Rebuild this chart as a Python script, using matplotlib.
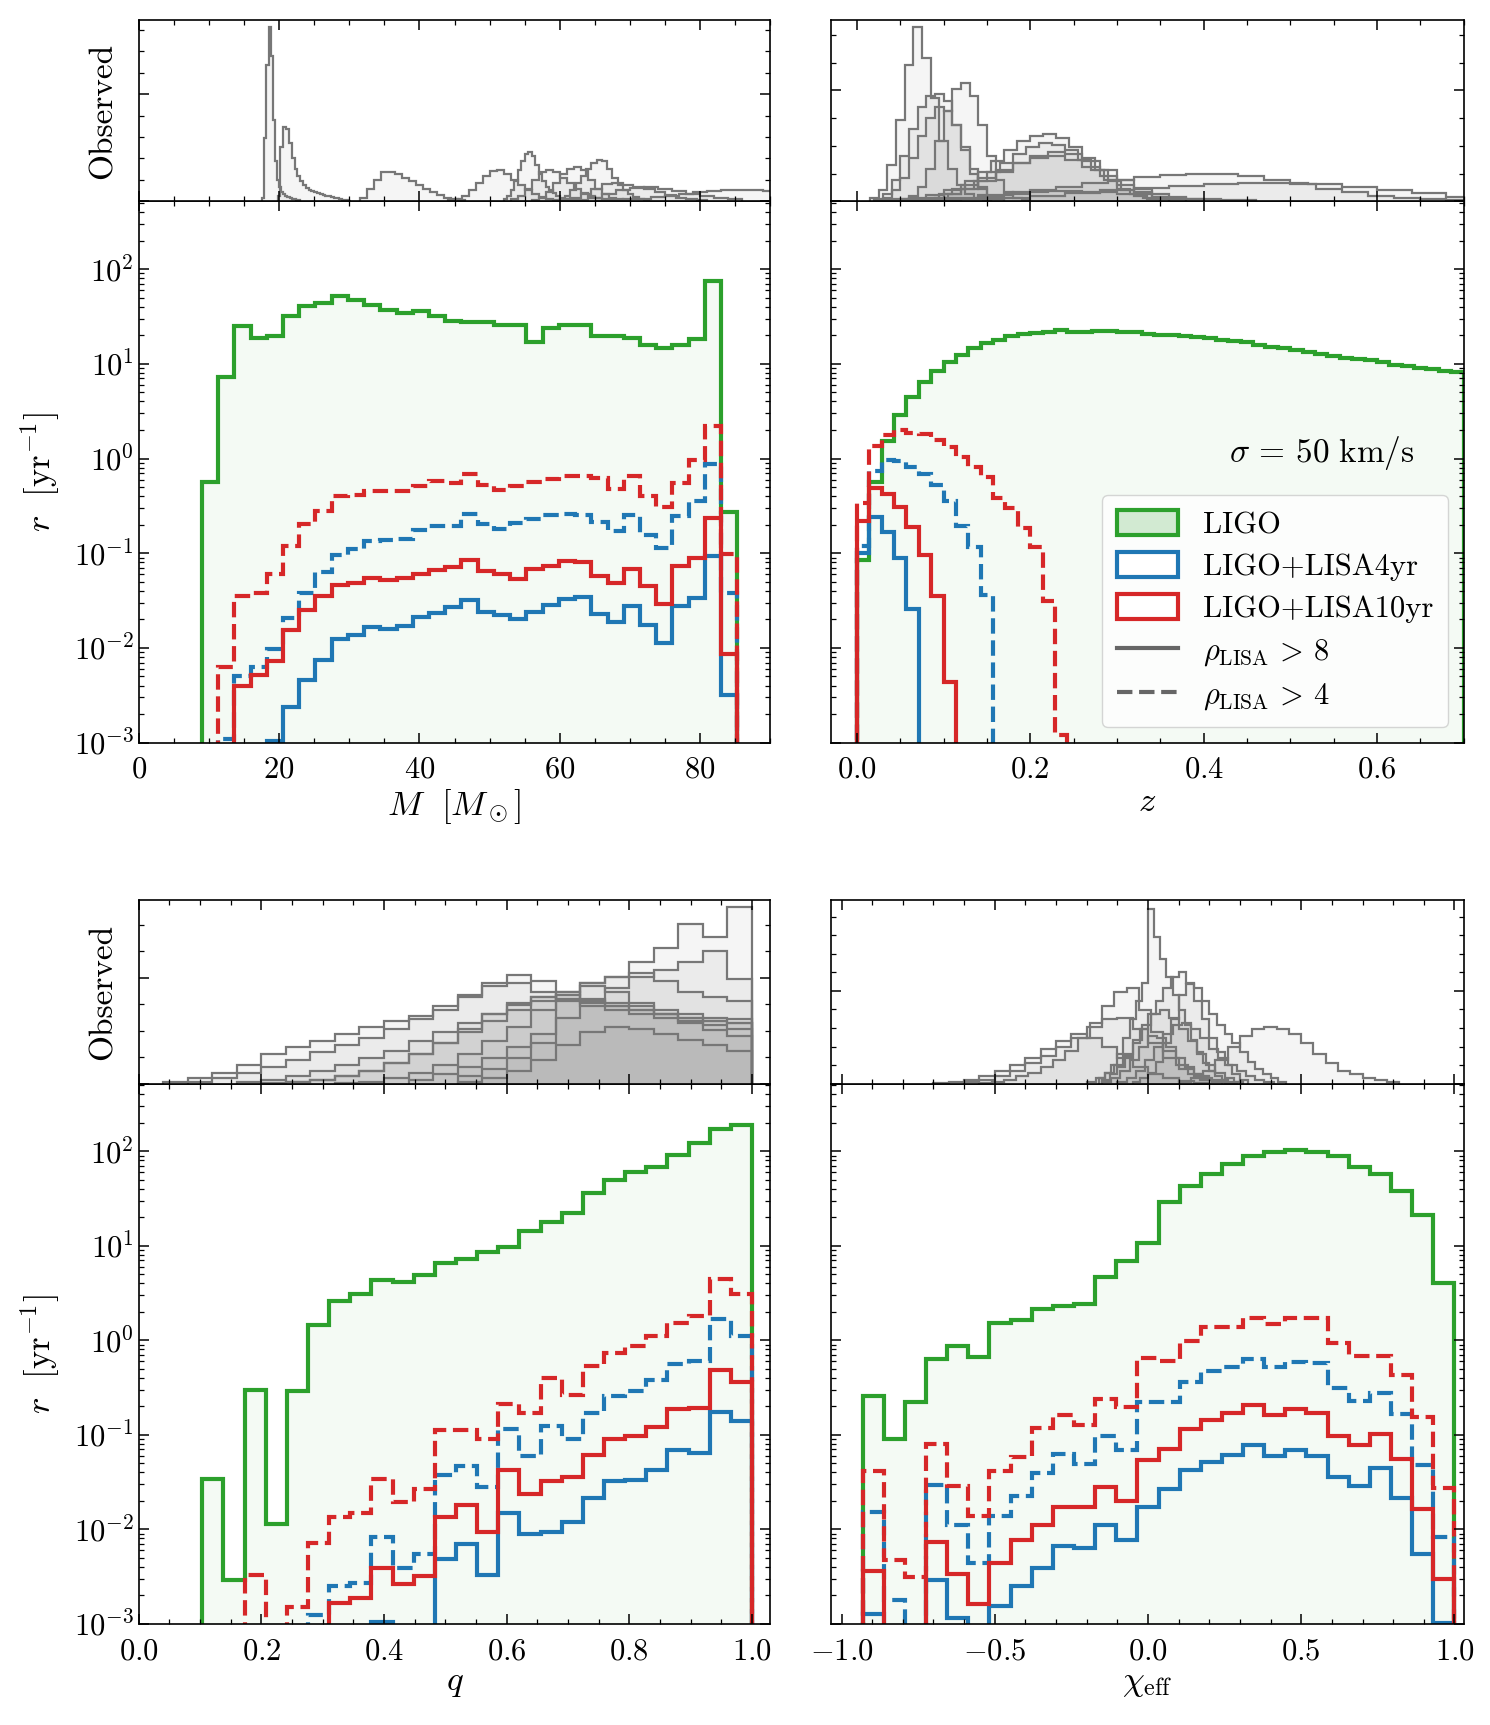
import numpy as np
import matplotlib
matplotlib.use('Agg')
import matplotlib.pyplot as plt
from matplotlib.ticker import MultipleLocator, LogLocator, NullFormatter
from matplotlib.patches import Patch
from matplotlib.lines import Line2D
from matplotlib.colors import to_rgba

plt.rcParams['font.family'] = 'serif'
plt.rcParams['font.serif'] = ['cmr10']
plt.rcParams['mathtext.fontset'] = 'cm'
plt.rcParams['axes.formatter.use_mathtext'] = True

GREEN = '#2ca02c'
BLUE = '#1f77b4'
RED = '#d62728'
OBS_EDGE = '#777777'

# ---- rates per bin ----
M_edges = np.linspace(9.0, 85.3, 34)
M_ligo = [0.57, 7.3, 25, 18.9, 19.7, 32, 41, 44, 52, 47, 42, 37, 34, 36, 32, 28.4, 27.9,
          27.7, 25.4, 25.4, 17.2, 23.9, 26, 25.4, 19.7, 19.7, 18.7, 15.9, 14.8, 15.9, 18.4, 74, 0.27]
M_10yr_rho4 = [0, 0.0063, 0.0356, 0.038, 0.060, 0.118, 0.202, 0.281, 0.405, 0.416, 0.453, 0.453,
               0.45, 0.516, 0.573, 0.55, 0.68, 0.53, 0.47, 0.516, 0.56, 0.61, 0.66, 0.65, 0.62,
               0.48, 0.65, 0.405, 0.304, 0.55, 0.96, 2.2, 0.097]
M_4yr_rho4 = [0, 0.0011, 0.0051, 0.0063, 0.0097, 0.0206, 0.038, 0.063, 0.095, 0.110, 0.134, 0.137,
              0.143, 0.177, 0.194, 0.194, 0.258, 0.202, 0.18, 0.21, 0.23, 0.256, 0.262, 0.256,
              0.215, 0.17, 0.256, 0.156, 0.113, 0.25, 0.356, 0.885, 0.038]
M_10yr_rho8 = [0, 0, 0.0040, 0.0052, 0.0072, 0.0156, 0.0252, 0.035, 0.046, 0.049, 0.055, 0.052,
               0.055, 0.060, 0.067, 0.071, 0.085, 0.065, 0.06, 0.054, 0.068, 0.074, 0.082, 0.08,
               0.057, 0.048, 0.068, 0.045, 0.029, 0.074, 0.089, 0.234, 0.0087]
M_4yr_rho8 = [0, 0, 0, 0, 0.00105, 0.0024, 0.0046, 0.0075, 0.0123, 0.0137, 0.0168, 0.016, 0.0171,
              0.0212, 0.0234, 0.0268, 0.032, 0.0237, 0.0222, 0.0201, 0.0237, 0.0286, 0.0326,
              0.0346, 0.0226, 0.019, 0.028, 0.0175, 0.0112, 0.0278, 0.0337, 0.094, 0.0032]

z_edges = np.linspace(0.0, 0.7, 50)
z_ligo = [0.085, 0.57, 1.53, 2.85, 4.48, 6.5, 8.4, 10.5, 12.5, 14.6,
          16.5, 17.9, 19.6, 20.6, 21.3, 21.9, 22.5, 21.9, 21.7, 22.1,
          22.1, 21.9, 21.5, 20.6, 20.3, 20.0, 19.6, 19.1, 18.6, 17.9,
          17.4, 16.8, 15.8, 15.1, 14.7, 14.1, 13.4, 12.7, 12.0, 11.5,
          11.2, 10.9, 10.5, 9.8, 9.5, 9.0, 8.8, 8.4, 8.1]
z_10yr_rho4 = [0.34, 1.36, 1.77, 2.01, 1.88, 1.82, 1.58, 1.31, 1.03, 0.81, 0.64, 0.38, 0.30,
               0.185, 0.117, 0.031, 0.0012]
z_4yr_rho4 = [0.12, 0.74, 0.96, 0.94, 0.81, 0.68, 0.53, 0.36, 0.194, 0.117, 0.036]
z_10yr_rho8 = [0.22, 0.49, 0.42, 0.31, 0.19, 0.095, 0.035, 0.0044]
z_4yr_rho8 = [0.10, 0.24, 0.166, 0.090, 0.026]

q_edges = np.linspace(0.1037, 1.0, 27)
q_ligo = [0.034, 0.0029, 0.30, 0.0114, 0.29, 1.45, 2.62, 3.08, 4.36, 4.11, 4.89, 6.5, 7.2,
          8.5, 9.6, 14.3, 17.7, 22.4, 36, 50, 61, 68, 92, 122, 173, 192]
q_10yr_rho4 = [0, 0, 0.0033, 0, 0.0015, 0.0072, 0.0136, 0.0148, 0.034, 0.0192, 0.0265, 0.113,
               0.113, 0.091, 0.214, 0.169, 0.40, 0.266, 0.53, 0.74, 0.86, 1.12, 1.54, 1.80,
               4.49, 3.08]
q_4yr_rho4 = [0, 0, 0, 0, 0, 0.00123, 0.0025, 0.0027, 0.0083, 0.0039, 0.0055, 0.0376, 0.0467,
              0.0282, 0.116, 0.059, 0.124, 0.091, 0.172, 0.255, 0.29, 0.377, 0.556, 0.61, 1.68, 1.12]
q_10yr_rho8 = [0, 0, 0, 0, 0, 0, 0.00164, 0.00187, 0.0039, 0.00265, 0.0032, 0.0136, 0.0182,
               0.0094, 0.0428, 0.0237, 0.0324, 0.0353, 0.0617, 0.0895, 0.0977, 0.122, 0.188,
               0.191, 0.48, 0.36]
q_4yr_rho8 = [0, 0, 0, 0, 0, 0, 0, 0, 0.00104, 0, 0, 0.0049, 0.0069, 0.0033, 0.0148, 0.0088,
              0.0094, 0.0118, 0.0213, 0.0324, 0.0336, 0.042, 0.069, 0.064, 0.175, 0.141]

chi_edges = np.linspace(-0.931, 1.0, 29)
chi_ligo = [0.255, 0.0895, 0.22, 0.63, 0.86, 0.66, 1.51, 1.65, 2.14, 2.30, 2.44, 4.69, 6.9,
            10.7, 29, 43, 57, 74, 89, 98, 104, 98, 90, 69, 57, 38, 21, 4.0]
chi_10yr_rho4 = [0.041, 0.0047, 0.0031, 0.079, 0.029, 0.0138, 0.041, 0.058, 0.119, 0.160,
                 0.127, 0.24, 0.196, 0.65, 0.61, 0.98, 1.39, 1.39, 1.72, 1.49, 1.72, 1.72,
                 0.94, 0.68, 0.68, 0.43, 0.155, 0.027]
chi_4yr_rho4 = [0.0151, 0.0018, 0, 0.0297, 0.0111, 0.0044, 0.0138, 0.0223, 0.039, 0.063,
                0.049, 0.098, 0.069, 0.223, 0.22, 0.36, 0.47, 0.52, 0.63, 0.52, 0.59, 0.58,
                0.31, 0.227, 0.28, 0.165, 0.0475, 0.0082]
chi_10yr_rho8 = [0.0036, 0, 0, 0.0074, 0.0034, 0.0016, 0.0044, 0.0077, 0.0111, 0.0172, 0.017,
                 0.0282, 0.0199, 0.0546, 0.071, 0.116, 0.145, 0.169, 0.208, 0.16, 0.188, 0.169,
                 0.098, 0.077, 0.102, 0.056, 0.0164, 0.003]
chi_4yr_rho8 = [0.00128, 0, 0, 0.0029, 0.00116, 0, 0.00155, 0.0025, 0.0039, 0.0066, 0.0063,
                0.0111, 0.0077, 0.0172, 0.0265, 0.042, 0.051, 0.0606, 0.077, 0.059, 0.069,
                0.059, 0.0353, 0.0289, 0.0447, 0.0213, 0.0055, 0.00102]

# ---- observed posteriors: (first edge, bin width, heights as fraction of panel height) ----
obs_M = [
    (17.6, 0.3, [0.02, 0.35, 0.75, 0.96, 0.80, 0.45, 0.22, 0.12, 0.08, 0.05, 0.04, 0.03, 0.025,
                 0.02, 0.015, 0.01, 0.008, 0.005]),
    (19.8, 0.4, [0.03, 0.30, 0.41, 0.40, 0.32, 0.24, 0.18, 0.14, 0.11, 0.09, 0.075, 0.065, 0.058,
                 0.052, 0.046, 0.04, 0.036, 0.032, 0.028, 0.024, 0.02, 0.016, 0.012, 0.009,
                 0.006, 0.004]),
    (31.5, 1.0, [0.02, 0.07, 0.12, 0.16, 0.16, 0.15, 0.13, 0.11, 0.09, 0.07, 0.05, 0.035, 0.02,
                 0.01, 0.005]),
    (44.0, 1.0, [0.005, 0.01, 0.03, 0.06, 0.10, 0.14, 0.165, 0.17, 0.15, 0.12, 0.09, 0.06, 0.04,
                 0.025, 0.015, 0.008, 0.004]),
    (52.0, 0.5, [0.01, 0.03, 0.06, 0.11, 0.17, 0.22, 0.26, 0.27, 0.25, 0.20, 0.15, 0.11, 0.08,
                 0.06, 0.045, 0.03, 0.02, 0.012, 0.008, 0.005]),
    (53.0, 1.0, [0.01, 0.03, 0.07, 0.12, 0.16, 0.17, 0.16, 0.13, 0.10, 0.07, 0.045, 0.03, 0.02,
                 0.01, 0.005]),
    (56.0, 1.0, [0.005, 0.02, 0.05, 0.10, 0.15, 0.18, 0.19, 0.17, 0.12, 0.07, 0.04, 0.02, 0.01,
                 0.005]),
    (60.0, 0.75, [0.01, 0.03, 0.06, 0.10, 0.14, 0.18, 0.21, 0.23, 0.22, 0.18, 0.13, 0.09, 0.06,
                  0.04, 0.025, 0.015, 0.008]),
    (60.0, 1.5, [0.01, 0.02, 0.04, 0.07, 0.095, 0.10, 0.09, 0.08, 0.07, 0.05, 0.035, 0.02, 0.01,
                 0.005]),
    (62.0, 2.0, [0.005, 0.02, 0.04, 0.06, 0.075, 0.08, 0.07, 0.055, 0.04, 0.03, 0.02, 0.01]),
    (65.0, 2.0, [0.002, 0.005, 0.01, 0.015, 0.022, 0.03, 0.04, 0.05, 0.058, 0.063, 0.065, 0.062,
                 0.058]),
]
obs_z = [
    (0.015, 0.01, [0.02, 0.06, 0.20, 0.45, 0.75, 0.96, 0.79, 0.57, 0.33, 0.18, 0.09, 0.04, 0.015,
                   0.005]),
    (0.02, 0.01, [0.01, 0.04, 0.12, 0.25, 0.40, 0.52, 0.58, 0.59, 0.55, 0.42, 0.28, 0.15, 0.07,
                  0.03, 0.01]),
    (0.03, 0.01, [0.02, 0.06, 0.13, 0.24, 0.36, 0.46, 0.52, 0.50, 0.42, 0.30, 0.18, 0.08, 0.03,
                  0.01]),
    (0.05, 0.01, [0.01, 0.03, 0.08, 0.18, 0.33, 0.50, 0.62, 0.65, 0.58, 0.42, 0.25, 0.12, 0.05,
                  0.02, 0.005]),
    (0.05, 0.015, [0.005, 0.01, 0.02, 0.04, 0.07, 0.11, 0.16, 0.22, 0.28, 0.33, 0.36, 0.37, 0.35,
                   0.30, 0.24, 0.17, 0.11, 0.06, 0.03, 0.015]),
    (0.06, 0.015, [0.005, 0.01, 0.02, 0.04, 0.07, 0.11, 0.16, 0.21, 0.26, 0.30, 0.32, 0.31, 0.28,
                   0.23, 0.17, 0.12, 0.07, 0.04, 0.02, 0.01]),
    (0.04, 0.02, [0.005, 0.01, 0.02, 0.04, 0.07, 0.11, 0.16, 0.21, 0.25, 0.27, 0.26, 0.22, 0.17,
                  0.12, 0.07, 0.04, 0.02, 0.01]),
    (0.02, 0.02, [0.005, 0.01, 0.02, 0.035, 0.06, 0.09, 0.13, 0.17, 0.21, 0.24, 0.25, 0.23, 0.19,
                  0.14, 0.09, 0.05, 0.025, 0.01]),
    (0.05, 0.03, [0.003, 0.008, 0.015, 0.025, 0.04, 0.06, 0.08, 0.10, 0.12, 0.135, 0.145, 0.15,
                  0.148, 0.14, 0.12, 0.095, 0.07, 0.05, 0.03, 0.018, 0.01, 0.005]),
    (0.08, 0.04, [0.005, 0.01, 0.02, 0.03, 0.045, 0.06, 0.072, 0.085, 0.095, 0.10, 0.10, 0.095,
                  0.08, 0.065, 0.045, 0.025, 0.015]),
    (0.06, 0.04, [0.01, 0.02, 0.035, 0.05, 0.055, 0.05, 0.04, 0.025, 0.012, 0.005]),
]
obs_q = [
    (0.04, 0.04, [0.01, 0.03, 0.06, 0.10, 0.16, 0.20, 0.23, 0.27, 0.31, 0.34, 0.37, 0.42, 0.48,
                  0.55, 0.59, 0.56, 0.50, 0.45, 0.42, 0.40, 0.38, 0.36, 0.34, 0.33]),
    (0.08, 0.04, [0.01, 0.03, 0.06, 0.09, 0.13, 0.17, 0.21, 0.25, 0.30, 0.35, 0.40, 0.47, 0.53,
                  0.55, 0.50, 0.46, 0.42, 0.40, 0.38, 0.36, 0.34, 0.32, 0.30]),
    (0.16, 0.04, [0.01, 0.02, 0.04, 0.07, 0.10, 0.14, 0.18, 0.23, 0.28, 0.33, 0.38, 0.43, 0.47,
                  0.48, 0.46, 0.44, 0.42, 0.40, 0.38, 0.36, 0.35]),
    (0.24, 0.04, [0.01, 0.02, 0.04, 0.07, 0.11, 0.16, 0.22, 0.28, 0.34, 0.40, 0.45, 0.50, 0.55,
                  0.58, 0.60, 0.56, 0.50, 0.47, 0.45]),
    (0.20, 0.04, [0.005, 0.01, 0.02, 0.04, 0.07, 0.11, 0.16, 0.22, 0.30, 0.38, 0.44, 0.47, 0.46,
                  0.44, 0.42, 0.40, 0.38, 0.36, 0.34, 0.33]),
    (0.32, 0.04, [0.005, 0.01, 0.03, 0.06, 0.10, 0.16, 0.23, 0.31, 0.40, 0.48, 0.53, 0.50, 0.44,
                  0.38, 0.33, 0.29, 0.26]),
    (0.52, 0.04, [0.01, 0.03, 0.07, 0.13, 0.21, 0.28, 0.31, 0.30, 0.27, 0.24, 0.21, 0.18]),
    (0.44, 0.04, [0.02, 0.05, 0.09, 0.14, 0.20, 0.27, 0.36, 0.45, 0.52, 0.58, 0.62, 0.66, 0.72,
                  0.57]),
    (0.52, 0.04, [0.04, 0.08, 0.14, 0.22, 0.45, 0.55, 0.58, 0.66, 0.74, 0.87, 0.80, 0.96]),
]
obs_chi = [
    (-0.16, 0.02, [0.03, 0.06, 0.10, 0.16, 0.25, 0.35, 0.45, 0.55, 0.95, 0.80, 0.68, 0.58, 0.48,
                   0.40, 0.32, 0.24, 0.17, 0.11, 0.07, 0.04, 0.02]),
    (-0.15, 0.025, [0.02, 0.05, 0.09, 0.15, 0.22, 0.30, 0.38, 0.45, 0.52, 0.58, 0.61, 0.55, 0.45,
                    0.35, 0.25, 0.17, 0.10, 0.05, 0.02]),
    (-0.05, 0.025, [0.01, 0.03, 0.06, 0.12, 0.22, 0.35, 0.48, 0.54, 0.52, 0.45, 0.38, 0.32, 0.27,
                    0.22, 0.17, 0.12, 0.08, 0.05, 0.03, 0.01]),
    (0.10, 0.04, [0.01, 0.03, 0.07, 0.13, 0.20, 0.26, 0.30, 0.31, 0.30, 0.27, 0.22, 0.16, 0.11,
                  0.07, 0.05, 0.03, 0.02, 0.01]),
    (-0.55, 0.04, [0.005, 0.01, 0.02, 0.04, 0.06, 0.09, 0.13, 0.18, 0.25, 0.33, 0.42, 0.50, 0.52,
                   0.40, 0.28, 0.18, 0.10, 0.05, 0.02, 0.01, 0.005]),
    (-0.60, 0.05, [0.01, 0.02, 0.04, 0.07, 0.11, 0.15, 0.20, 0.25, 0.31, 0.35, 0.36, 0.30, 0.22,
                   0.14, 0.08, 0.04, 0.02, 0.01]),
    (-0.70, 0.05, [0.005, 0.01, 0.02, 0.04, 0.07, 0.10, 0.14, 0.19, 0.23, 0.27, 0.25, 0.20, 0.14,
                   0.09, 0.05, 0.03, 0.015, 0.005]),
    (-0.15, 0.03, [0.01, 0.03, 0.07, 0.13, 0.20, 0.26, 0.25, 0.20, 0.14, 0.09, 0.05, 0.03, 0.01]),
    (-0.20, 0.03, [0.01, 0.03, 0.06, 0.10, 0.16, 0.24, 0.32, 0.38, 0.40, 0.36, 0.30, 0.23, 0.16,
                   0.10, 0.06, 0.03, 0.01]),
    (-0.10, 0.03, [0.01, 0.03, 0.07, 0.13, 0.20, 0.27, 0.32, 0.33, 0.30, 0.25, 0.19, 0.14, 0.10,
                   0.07, 0.04, 0.02, 0.01]),
]

BASE = 1e-6


def clean(vals, n):
    arr = np.zeros(n)
    arr[:len(vals)] = vals
    return np.where(arr > 0, arr, BASE)


def draw_main(ax, edges, ligo, r4_8, r4_4, r10_8, r10_4):
    n = len(edges) - 1
    g = clean(ligo, n)
    ax.stairs(g, edges, baseline=BASE, fill=True, facecolor=to_rgba(GREEN, 0.05), lw=0)
    ax.stairs(g, edges, baseline=BASE, color=GREEN, lw=3)
    ax.stairs(clean(r4_4, n), edges, baseline=BASE, color=BLUE, lw=3, ls='--')
    ax.stairs(clean(r10_4, n), edges, baseline=BASE, color=RED, lw=3, ls='--')
    ax.stairs(clean(r4_8, n), edges, baseline=BASE, color=BLUE, lw=3)
    ax.stairs(clean(r10_8, n), edges, baseline=BASE, color=RED, lw=3)
    ax.set_yscale('log')
    ax.set_ylim(1e-3, 5.2e2)
    ax.yaxis.set_major_locator(LogLocator(base=10, numticks=10))
    ax.yaxis.set_minor_locator(LogLocator(base=10, subs=np.arange(2, 10), numticks=20))
    ax.yaxis.set_minor_formatter(NullFormatter())


def draw_obs(ax, events, minor_step, n_major):
    for x0, dx, h in events:
        e = x0 + dx * np.arange(len(h) + 1)
        ax.stairs(h, e, baseline=0, fill=True, facecolor='grey', alpha=0.08, lw=0)
        ax.stairs(h, e, baseline=0, color=OBS_EDGE, lw=1.6)
    ax.set_ylim(0, 1)
    ax.yaxis.set_major_locator(MultipleLocator(minor_step * n_major))
    ax.yaxis.set_minor_locator(MultipleLocator(minor_step))


def style(ax):
    ax.tick_params(which='both', direction='in', top=True, right=True, labelsize=22)
    ax.tick_params(which='major', length=7, width=1.1)
    ax.tick_params(which='minor', length=3.5, width=0.9)
    ax.tick_params(axis='x', which='major', pad=10)
    for s in ax.spines.values():
        s.set_linewidth(1.2)


fig = plt.figure(figsize=(14.9, 17.25), dpi=100)

cols = [(0.0931, 0.4239), (0.5576, 0.4247)]
rows = [((0.8833, 0.1052), (0.5695, 0.3138)), ((0.3718, 0.1065), (0.0587, 0.3131))]

panels = [
    (0, 0, obs_M, 1 / 8.47, 5, M_edges, M_ligo, M_4yr_rho8, M_4yr_rho4, M_10yr_rho8, M_10yr_rho4,
     (0, 90), 20, 5, r'$M\ \ [M_\odot]$'),
    (0, 1, obs_z, 1 / 6.55, 4, z_edges, z_ligo, z_4yr_rho8, z_4yr_rho4, z_10yr_rho8, z_10yr_rho4,
     (-0.03, 0.7), 0.2, 0.05, r'$z$'),
    (1, 0, obs_q, 1 / 6.94, 4, q_edges, q_ligo, q_4yr_rho8, q_4yr_rho4, q_10yr_rho8, q_10yr_rho4,
     (0.0, 1.03), 0.2, 0.05, r'$q$'),
    (1, 1, obs_chi, 1 / 9.9, 5, chi_edges, chi_ligo, chi_4yr_rho8, chi_4yr_rho4, chi_10yr_rho8,
     chi_10yr_rho4, (-1.035, 1.03), 0.5, 0.1, r'$\chi_{\rm eff}$'),
]

for (r, c, obs, mstep, nmaj, edges, ligo, a, b, d, e, xlim, xmaj, xmin, xlabel) in panels:
    (ob, oh), (mb, mh) = rows[r]
    left, width = cols[c]
    ax_m = fig.add_axes([left, mb, width, mh])
    ax_o = fig.add_axes([left, ob, width, oh], sharex=ax_m)
    draw_main(ax_m, edges, ligo, a, b, d, e)
    draw_obs(ax_o, obs, mstep, nmaj)
    ax_m.set_xlim(*xlim)
    ax_m.xaxis.set_major_locator(MultipleLocator(xmaj))
    ax_m.xaxis.set_minor_locator(MultipleLocator(xmin))
    ax_m.set_xlabel(xlabel, fontsize=25, labelpad=2)
    style(ax_m)
    style(ax_o)
    ax_o.tick_params(labelleft=False, labelbottom=False)
    if c == 0:
        ax_m.set_ylabel(r'$r\ \ [{\rm yr}^{-1}]$', fontsize=25, labelpad=8)
        ax_o.set_ylabel('Observed', fontsize=24, labelpad=12)
    else:
        ax_m.tick_params(labelleft=False)
    if r == 0 and c == 1:
        ax_m.text(0.775, 0.535, r'$\sigma\,=\,50\ {\rm km/s}$', transform=ax_m.transAxes,
                  fontsize=24, ha='center', va='center')
        handles = [
            Patch(facecolor=to_rgba(GREEN, 0.2), edgecolor=GREEN, lw=3),
            Patch(facecolor='white', edgecolor=BLUE, lw=3),
            Patch(facecolor='white', edgecolor=RED, lw=3),
            Line2D([], [], color='#666666', lw=3),
            Line2D([], [], color='#666666', lw=3, ls='--'),
        ]
        labels = ['LIGO', 'LIGO+LISA4yr', 'LIGO+LISA10yr',
                  r'$\rho_{\rm LISA}\,>\,8$', r'$\rho_{\rm LISA}\,>\,4$']
        ax_m.legend(handles, labels, loc='lower right', fontsize=22, handlelength=2.0,
                    handleheight=0.9, labelspacing=0.42, borderpad=0.5, borderaxespad=0.5)

fig.savefig('out.png', dpi=100)
